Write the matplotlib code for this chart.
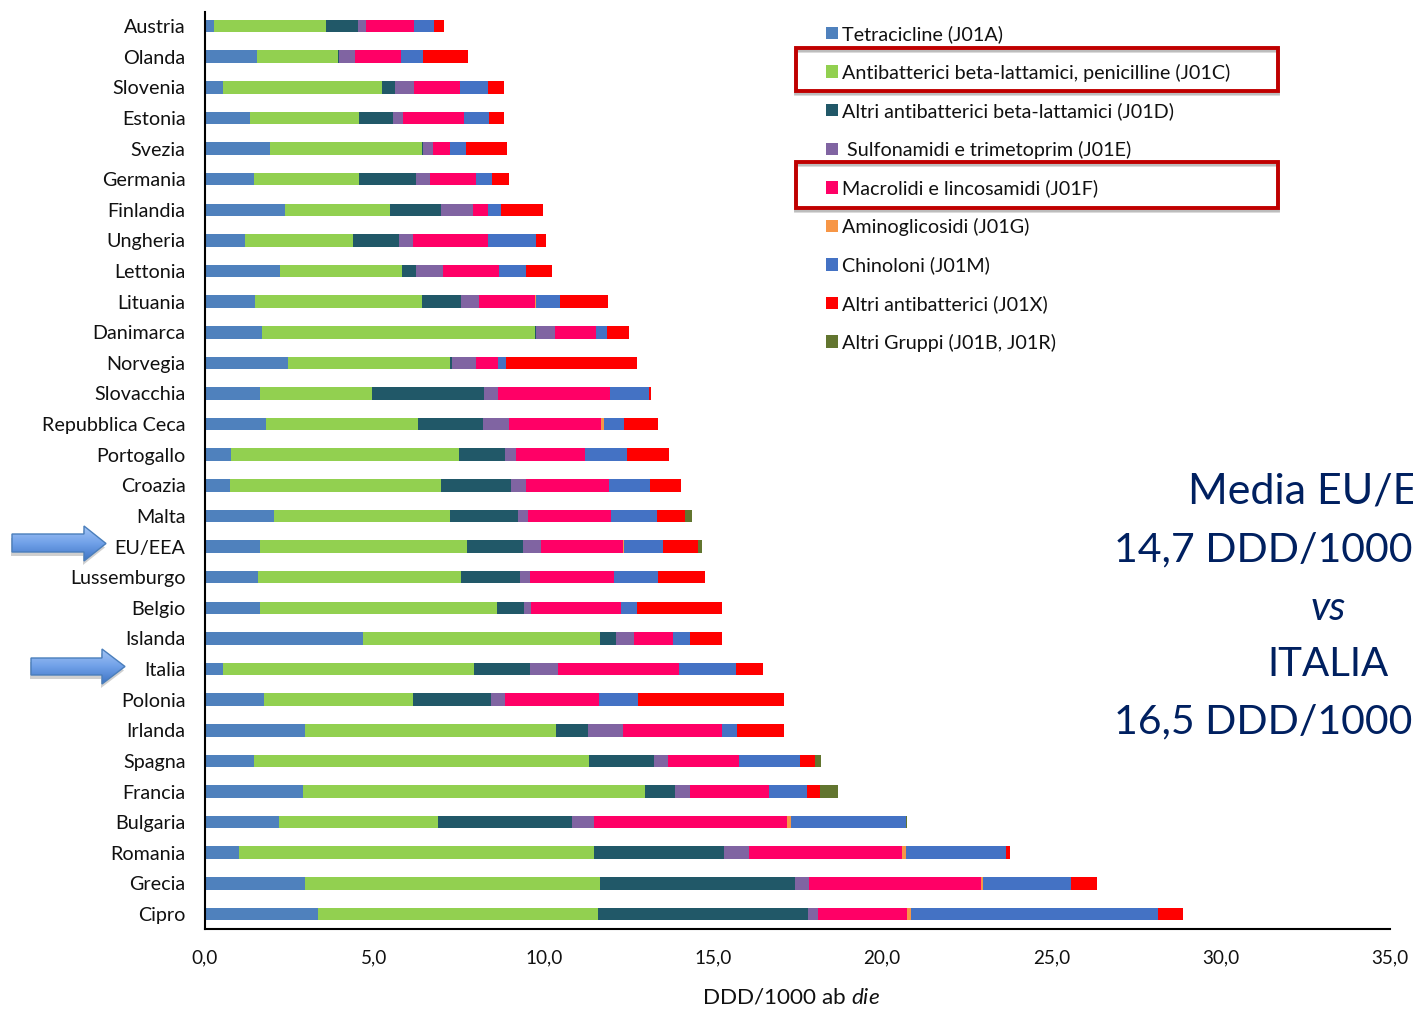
import matplotlib
matplotlib.use('Agg')
import matplotlib.pyplot as plt
import numpy as np
from matplotlib.patches import Polygon, Rectangle

plt.rcParams['font.family'] = ['Lato', 'DejaVu Sans']
plt.rcParams['mathtext.fontset'] = 'custom'
plt.rcParams['mathtext.rm'] = 'Lato'
plt.rcParams['mathtext.it'] = 'Lato:italic'

# Values, DDD/1000 ab die
countries = ['Austria', 'Olanda', 'Slovenia', 'Estonia', 'Svezia', 'Germania', 'Finlandia', 'Ungheria',
             'Lettonia', 'Lituania', 'Danimarca', 'Norvegia', 'Slovacchia', 'Repubblica Ceca', 'Portogallo',
             'Croazia', 'Malta', 'EU/EEA', 'Lussemburgo', 'Belgio', 'Islanda', 'Italia', 'Polonia', 'Irlanda',
             'Spagna', 'Francia', 'Bulgaria', 'Romania', 'Grecia', 'Cipro']

j01a = [.26, 1.54, .53, 1.34, 1.92, 1.45, 2.36, 1.17, 2.21, 1.48, 1.68, 2.45, 1.63, 1.79, .78,
        .75, 2.05, 1.63, 1.57, 1.62, 4.66, .54, 1.73, 2.95, 1.44, 2.88, 2.18, .99, 2.95, 3.33]
j01c = [3.31, 2.40, 4.71, 3.20, 4.48, 3.10, 3.11, 3.20, 3.61, 4.92, 8.08, 4.80, 3.31, 4.51, 6.71,
        6.21, 5.20, 6.11, 6.00, 7.00, 7.01, 7.41, 4.40, 7.41, 9.89, 10.12, 4.69, 10.50, 8.72, 8.29]
j01d = [.96, .03, .38, 1.02, .04, 1.67, 1.49, 1.36, .42, 1.17, .02, .05, 3.30, 1.90, 1.36,
        2.08, 2.00, 1.66, 1.74, .80, .48, 1.66, 2.31, .94, 1.92, .88, 3.97, 3.84, 5.75, 6.18]
j01e = [.22, .45, .54, .30, .30, .44, .95, .40, .79, .51, .56, .70, .42, .78, .34,
        .45, .30, .53, .30, .21, .51, .83, .42, 1.04, .42, .45, .64, .74, .43, .30]
j01f = [1.42, 1.36, 1.36, 1.79, .49, 1.33, .44, 2.24, 1.66, 1.67, 1.20, .66, 3.30, 2.72, 2.03,
        2.43, 2.45, 2.42, 2.48, 2.66, 1.15, 3.57, 2.79, 2.93, 2.11, 2.34, 5.71, 4.52, 5.08, 2.63]
j01g = [0, 0, 0, 0, 0, 0, 0, 0, 0, .02, 0, 0, 0, .08, 0,
        0, 0, .03, 0, 0, 0, 0, 0, 0, 0, 0, .13, .11, .04, .11]
j01m = [.58, .66, .84, .73, .49, .49, .40, 1.42, .78, .72, .34, .24, 1.15, .61, 1.23,
        1.23, 1.36, 1.15, 1.28, .46, .51, 1.68, 1.15, .43, 1.79, 1.12, 3.37, 2.95, 2.62, 7.31]
j01x = [.30, 1.33, .46, .45, 1.21, .51, 1.23, .28, .78, 1.40, .64, 3.86, .06, .99, 1.26,
        .91, .83, 1.04, 1.41, 2.51, .96, .78, 4.31, 1.39, .46, .37, 0, .14, .76, .74]
altri = [0, 0, 0, 0, 0, 0, 0, 0, 0, 0, 0, 0, 0, 0, 0,
         0, .19, .11, 0, 0, 0, 0, 0, 0, .16, .53, .03, 0, 0, 0]

series_values = [j01a, j01c, j01d, j01e, j01f, j01g, j01m, j01x, altri]
series_labels = ['Tetracicline (J01A)', 'Antibatterici beta-lattamici, penicilline (J01C)',
                 'Altri antibatterici beta-lattamici (J01D)', ' Sulfonamidi e trimetoprim (J01E)',
                 'Macrolidi e lincosamidi (J01F)', 'Aminoglicosidi (J01G)', 'Chinoloni (J01M)',
                 'Altri antibatterici (J01X)', 'Altri Gruppi (J01B, J01R)']
series_colors = ['#4F81BD', '#92D050', '#215868', '#8064A2', '#FF0066', '#F79646', '#4472C4', '#FF0000', '#62752F']
tick_values = [0, 5, 10, 15, 20, 25, 30, 35]
tick_labels = ['0,0', '5,0', '10,0', '15,0', '20,0', '25,0', '30,0', '35,0']

W, H = 1413, 1009
fig = plt.figure(figsize=(W / 100, H / 100), dpi=100)
ax = fig.add_axes([205 / W, 1 - 929 / H, (1390 - 205) / W, (929 - 12) / H])

# Stacked bars
y = np.arange(len(countries))
left = np.zeros(len(countries))
for vals, lab, col in zip(series_values, series_labels, series_colors):
    ax.barh(y, vals, left=left, height=0.41, color=col, label=lab, linewidth=0)
    left += np.array(vals)

ax.set_xlim(0, 35)
ax.set_ylim(29.49, -0.46)
ax.set_yticks(y, countries, fontsize=14.2, color='#111111')
ax.set_xticks(tick_values, tick_labels, fontsize=13.6, color='#111111')
ax.tick_params(axis='both', length=0)
ax.tick_params(axis='y', pad=14)
ax.tick_params(axis='x', pad=15)
ax.spines[['top', 'right']].set_visible(False)
ax.spines[['left', 'bottom']].set_linewidth(1.5)
ax.set_xlabel(r'DDD/1000 ab $\mathit{die}$', fontsize=16.2, color='#111111')
ax.xaxis.set_label_coords((791 - 205) / (1390 - 205), -(997 - 929) / (929 - 12), transform=ax.transAxes)
ax.xaxis.label.set_verticalalignment('center')

# Legend
ax.legend(loc='upper left', bbox_to_anchor=(826 / W, 1 - 25 / H), bbox_transform=fig.transFigure,
          frameon=False, fontsize=14.2, labelcolor='#111111', handlelength=0.6, handleheight=0.6,
          handletextpad=0.2, labelspacing=1.045, borderpad=0, borderaxespad=0)

# Overlay in pixel coordinates for the slide decorations
ov = fig.add_axes([0, 0, 1, 1], zorder=5)
ov.patch.set_alpha(0)
ov.axis('off')

def highlight(x0, y0, x1, y1):
    for off, col, alpha in [(3, '#555555', 0.22), (2, '#555555', 0.22)]:
        ov.add_patch(Rectangle((x0, y0 + off), x1 - x0, y1 - y0, fill=False, ec=col, lw=2.8, alpha=alpha))
    ov.add_patch(Rectangle((x0, y0), x1 - x0, y1 - y0, fill=False, ec='#C00000', lw=2.8))

highlight(796, 48, 1278, 91)
highlight(796, 162, 1278, 208)

def arrow(x0, x_head, x_tip, y_top, y_s0, y_s1, y_bot):
    pts = [(x0, y_s0), (x_head, y_s0), (x_head, y_top), (x_tip, (y_top + y_bot) / 2),
           (x_head, y_bot), (x_head, y_s1), (x0, y_s1)]
    shadow = Polygon([(px - 1, py + 4) for px, py in pts], fc='#777777', ec='none', alpha=0.35)
    ov.add_patch(shadow)
    grad = np.linspace(0, 1, 64).reshape(-1, 1)
    cmap = matplotlib.colors.LinearSegmentedColormap.from_list('a', ['#A3C4F5', '#6FA0E8', '#3F74C4'])
    im = ov.imshow(grad, extent=(x0, x_tip, y_bot, y_top), cmap=cmap, aspect='auto', zorder=2)
    body = Polygon(pts, fc='none', ec='#4A7EBB', lw=1, zorder=3)
    ov.add_patch(body)
    im.set_clip_path(body)

arrow(12, 84, 106, 526, 534, 552, 561)
arrow(31, 102, 125, 649, 658, 675, 684)
ov.set_xlim(0, W)
ov.set_ylim(H, 0)

# Big text on the right
navy = '#002060'
ov.text(1188, 491, 'Media EU/EEA', color=navy, fontsize=31, va='center', ha='left', clip_on=False)
ov.text(1114, 550, '14,7 DDD/1000', color=navy, fontsize=29.5, va='center', ha='left')
ov.text(1328, 608, 'vs', color=navy, fontsize=29, va='center', ha='center', style='italic')
ov.text(1328, 665, 'ITALIA', color=navy, fontsize=29, va='center', ha='center')
ov.text(1114, 722, '16,5 DDD/1000', color=navy, fontsize=29.5, va='center', ha='left')

fig.savefig('out.png', dpi=100)
